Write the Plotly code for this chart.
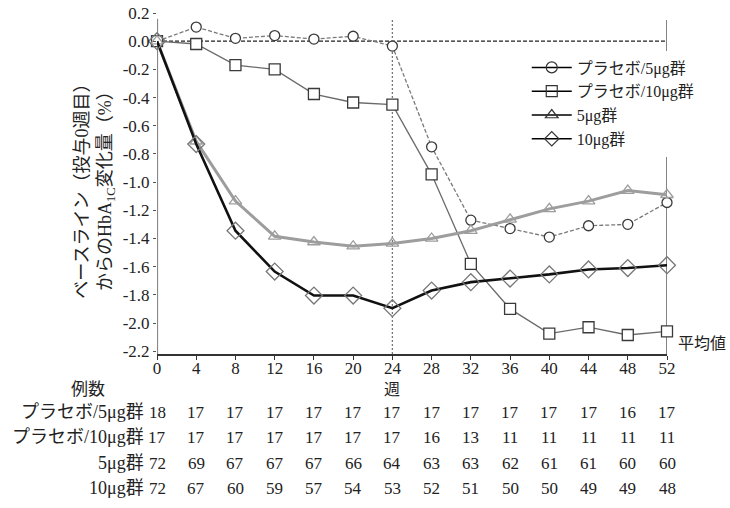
import plotly.graph_objects as go

weeks = [0, 4, 8, 12, 16, 20, 24, 28, 32, 36, 40, 44, 48, 52]
series_names = ["プラセボ/5μg群", "プラセボ/10μg群", "5μg群", "10μg群"]
placebo5 = [0.0, 0.10, 0.02, 0.04, 0.015, 0.035, -0.035, -0.75, -1.27, -1.33, -1.39, -1.31, -1.30, -1.145]
placebo10 = [0.0, -0.02, -0.17, -0.20, -0.375, -0.435, -0.45, -0.945, -1.58, -1.90, -2.075, -2.03, -2.085, -2.06]
dose5 = [0.0, -0.71, -1.135, -1.385, -1.425, -1.455, -1.435, -1.40, -1.345, -1.265, -1.19, -1.135, -1.06, -1.09]
dose10 = [0.0, -0.73, -1.345, -1.635, -1.805, -1.805, -1.895, -1.77, -1.71, -1.685, -1.655, -1.62, -1.61, -1.59]

n_placebo5 = [18, 17, 17, 17, 17, 17, 17, 17, 17, 17, 17, 17, 16, 17]
n_placebo10 = [17, 17, 17, 17, 17, 17, 17, 16, 13, 11, 11, 11, 11, 11]
n_dose5 = [72, 69, 67, 67, 67, 66, 64, 63, 63, 62, 61, 61, 60, 60]
n_dose10 = [72, 67, 60, 59, 57, 54, 53, 52, 51, 50, 50, 49, 49, 48]

y_ticks = [0.2, 0.0, -0.2, -0.4, -0.6, -0.8, -1.0, -1.2, -1.4, -1.6, -1.8, -2.0, -2.2]
y_ticktext = ["0.2", "0.0", "-0.2", "-0.4", "-0.6", "-0.8", "-1.0", "-1.2", "-1.4", "-1.6", "-1.8", "-2.0", "-2.2"]

FONT = "Liberation Serif, Times New Roman, Noto Sans CJK JP, serif"

fig = go.Figure()

styles = [
    (placebo5, dict(color="#7a7a7a", width=1.3, dash="4px,2px"), dict(symbol="circle", size=10, color="white", line=dict(color="#3a3a3a", width=1.3))),
    (placebo10, dict(color="#6a6a6a", width=1.3), dict(symbol="square", size=11, color="white", line=dict(color="#3a3a3a", width=1.3))),
    (dose5, dict(color="#9d9d9d", width=3), dict(symbol="triangle-up-open", size=11, color="#9d9d9d", line=dict(width=1.3))),
    (dose10, dict(color="#111111", width=2.6), dict(symbol="diamond-open", size=13, color="#777777", line=dict(width=1.3))),
]
for vals, ln, mk in styles:
    fig.add_trace(go.Scatter(x=weeks, y=vals, mode="lines+markers", line=ln, marker=mk,
                             showlegend=False, hoverinfo="skip", cliponaxis=False))

leg_symbols = ["circle-open", "square-open", "triangle-up-open", "diamond-open"]
for name, sym in zip(series_names, leg_symbols):
    fig.add_trace(go.Scatter(x=[None], y=[None], mode="lines+markers", name=name,
                             line=dict(color="black", width=1.5),
                             marker=dict(symbol=sym, size=11, color="#333", line=dict(width=1.2))))

fig.add_shape(type="line", xref="x", yref="y", x0=0, x1=52, y0=0, y1=0,
              line=dict(color="#222", width=1.3, dash="4px,2px"), layer="below")
fig.add_shape(type="line", xref="x", yref="y", x0=24, x1=24, y0=-2.22, y1=0.15,
              line=dict(color="#777", width=1.3, dash="2px,2px"), layer="below")
fig.add_shape(type="line", xref="x", yref="y", x0=52, x1=52, y0=-2.22, y1=0.15,
              line=dict(color="#777", width=1.8), layer="below")
fig.add_shape(type="line", xref="x", yref="y", x0=0, x1=0, y0=-2.22, y1=0.16,
              line=dict(color="#888", width=2.2), layer="below")

annotations = []
annotations.append(dict(xref="paper", yref="paper", x=-0.122, y=0.49, showarrow=False,
                        text="ベースライン（投与0週目）<br>からのHbA<sub>1C</sub>変化量（%）",
                        textangle=-90, xanchor="center", yanchor="middle",
                        font=dict(family=FONT, size=18, color="#222"), align="center"))
annotations.append(dict(xref="x", yref="paper", x=24, y=0, yshift=-35, showarrow=False,
                        text="週", xanchor="center", font=dict(family=FONT, size=16, color="#222"),
                        yanchor="middle"))
annotations.append(dict(xref="paper", yref="paper", x=-0.135, y=0, yshift=-35, showarrow=False,
                        text="例数", xanchor="center", font=dict(family=FONT, size=17, color="#222"),
                        yanchor="middle"))
annotations.append(dict(xref="paper", yref="paper", x=1, xshift=9, y=0, yshift=11, showarrow=False,
                        text="平均値", xanchor="left", font=dict(family=FONT, size=16, color="#222"),
                        yanchor="middle"))
rows = [n_placebo5, n_placebo10, n_dose5, n_dose10]
row_py = [412, 437, 463, 488]
for name, counts, py in zip(series_names, rows, row_py):
    annotations.append(dict(xref="paper", yref="paper", x=0, xshift=-11, y=0, yshift=-(py - 354),
                            showarrow=False, text=name, xanchor="right", yanchor="middle",
                            font=dict(family=FONT, size=18, color="#222")))
    for w, c in zip(weeks, counts):
        annotations.append(dict(xref="x", yref="paper", x=w, y=0, yshift=-(py - 354),
                                showarrow=False, text=str(c), xanchor="center", yanchor="middle",
                                font=dict(family=FONT, size=17, color="#222")))

fig.update_layout(
    width=730, height=508,
    margin=dict(l=157, r=63, t=13, b=154),
    paper_bgcolor="white", plot_bgcolor="white",
    font=dict(family=FONT, size=16, color="#222"),
    xaxis=dict(range=[0, 52], tickvals=weeks, ticktext=[str(w) for w in weeks],
               showgrid=False, zeroline=False, showline=True, linecolor="#333", linewidth=2,
               ticks="outside", ticklen=4, tickcolor="#333", tickwidth=1.3, automargin=False,
               ticklabelstandoff=-6,
               tickfont=dict(family=FONT, size=17, color="#222")),
    yaxis=dict(range=[-2.22, 0.2], tickvals=y_ticks, ticktext=y_ticktext,
               showgrid=False, zeroline=False, showline=False, automargin=False,
               ticks="outside", ticklen=3, tickcolor="#555", tickwidth=1,
               tickfont=dict(family=FONT, size=17, color="#222")),
    legend=dict(x=0.725, y=0.89, xanchor="left", yanchor="top", bgcolor="white",
                font=dict(family=FONT, size=16, color="#222"), tracegroupgap=0,
                itemwidth=40),
    annotations=annotations,
)

fig.write_html("out.html", config={"displayModeBar": False},
               post_script="document.body.style.margin='0px';")
